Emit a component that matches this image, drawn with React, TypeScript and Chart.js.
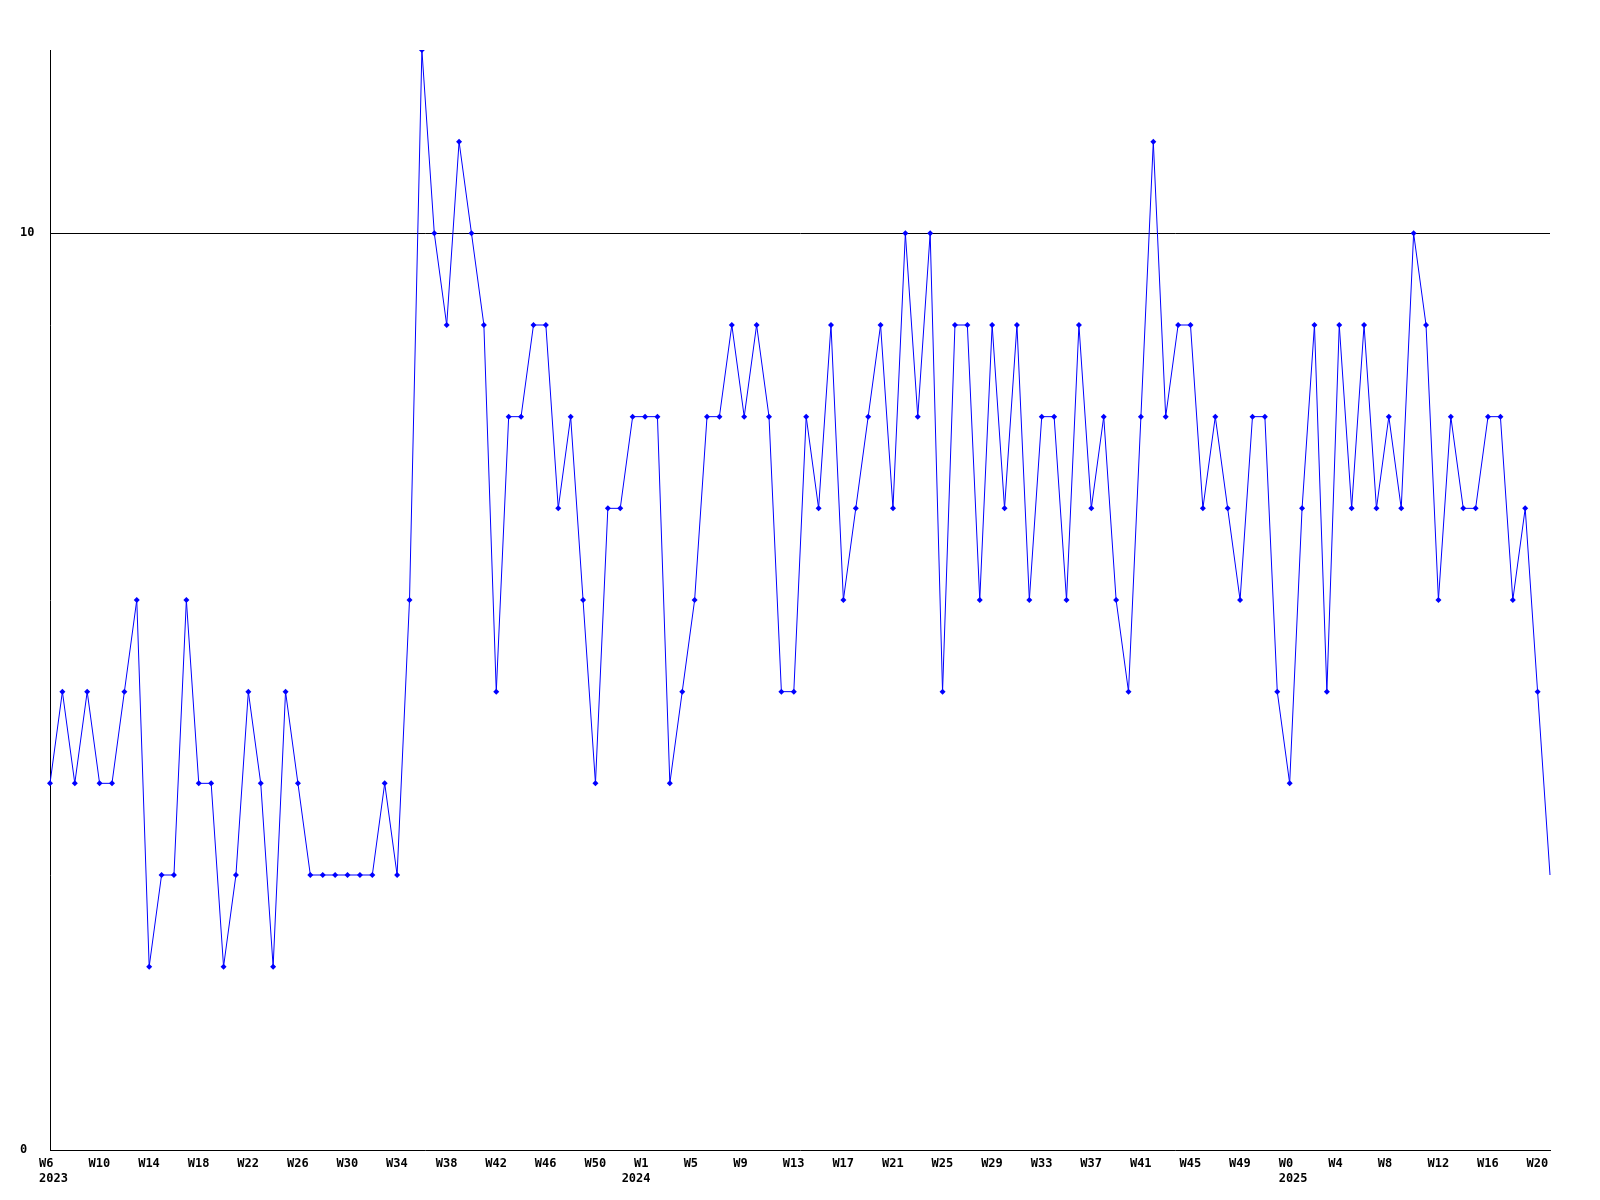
import React, { useEffect, useRef } from "react";
import { Chart, registerables } from "chart.js";

Chart.register(...registerables);

// Weekly categories (one per data point)
const weeks: string[] = [
  "W6","W7","W8","W9","W10","W11","W12","W13","W14","W15","W16","W17","W18","W19","W20","W21",
  "W22","W23","W24","W25","W26","W27","W28","W29","W30","W31","W32","W33","W34","W35","W36","W37",
  "W38","W39","W40","W41","W42","W43","W44","W45","W46","W47","W48","W49","W50","W51","W52","W53",
  "W1","W2","W3","W4","W5","W6","W7","W8","W9","W10","W11","W12","W13","W14","W15","W16",
  "W17","W18","W19","W20","W21","W22","W23","W24","W25","W26","W27","W28","W29","W30","W31","W32",
  "W33","W34","W35","W36","W37","W38","W39","W40","W41","W42","W43","W44","W45","W46","W47","W48",
  "W49","W50","W51","W52",
  "W0","W1","W2","W3","W4","W5","W6","W7","W8","W9","W10","W11","W12","W13","W14","W15",
  "W16","W17","W18","W19","W20","W21",
];

// Indices of the weeks that carry a visible tick label
const labelledWeekIdx: number[] = [
  0, 4, 8, 12, 16, 20, 24, 28, 32, 36, 40, 44, 48, 52, 56, 60, 64, 68, 72, 76,
  80, 84, 88, 92, 96, 100, 104, 108, 112, 116, 120,
];

// Year labels: index -> year text
const yearIdx: number[] = [0, 47, 100];
const yearText: string[] = ["2023", "2024", "2025"];

// Series values
const values: number[] = [
  4, 5, 4, 5, 4, 4, 5, 6, 2, 3,
  3, 6, 4, 4, 2, 3, 5, 4, 2, 5,
  4, 3, 3, 3, 3, 3, 3, 4, 3, 6,
  12, 10, 9, 11, 10, 9, 5, 8, 8, 9,
  9, 7, 8, 6, 4, 7, 7, 8, 8, 8,
  4, 5, 6, 8, 8, 9, 8, 9, 8, 5,
  5, 8, 7, 9, 6, 7, 8, 9, 7, 10,
  8, 10, 5, 9, 9, 6, 9, 7, 9, 6,
  8, 8, 6, 9, 7, 8, 6, 5, 8, 11,
  8, 9, 9, 7, 8, 7, 6, 8, 8, 5,
  4, 7, 9, 5, 9, 7, 9, 7, 8, 7,
  10, 9, 6, 8, 7, 7, 8, 8, 6, 7,
  5, 3,
];

const yTickValues: number[] = [0, 10];

export default function App() {
  const ref = useRef<HTMLCanvasElement | null>(null);

  useEffect(() => {
    if (!ref.current) return;
    const font = { family: "'DejaVu Sans Mono', monospace", size: 12, weight: "bold" as const, lineHeight: 1.25 };
    const last = values.length - 1;
    const chart = new Chart(ref.current, {
      type: "line",
      data: {
        labels: weeks,
        datasets: [
          {
            data: values,
            borderColor: "#0000ff",
            backgroundColor: "#0000ff",
            borderWidth: 1,
            tension: 0,
            pointStyle: "rectRot",
            pointRadius: (c: any) => (c.dataIndex === last ? 0 : 3),
            pointBorderWidth: 0,
            pointBackgroundColor: "#0000ff",
            fill: false,
          },
        ],
      },
      options: {
        animation: false,
        responsive: false,
        maintainAspectRatio: false,
        events: [],
        layout: { padding: { left: 20, right: 50, top: 50, bottom: 0 } },
        plugins: { legend: { display: false }, tooltip: { enabled: false } },
        scales: {
          x: {
            type: "category",
            offset: false,
            grid: { display: false, drawTicks: false },
            border: { display: true, color: "#000000", width: 1 },
            ticks: {
              autoSkip: false,
              maxRotation: 0,
              minRotation: 0,
              align: "start",
              labelOffset: -11,
              padding: 6,
              color: "#000000",
              font,
              callback: (_v: any, i: number) => {
                const yi = yearIdx.indexOf(i);
                const wk = labelledWeekIdx.includes(i) ? weeks[i] : "";
                if (yi >= 0) return [wk, yearText[yi]];
                return wk;
              },
            },
            afterFit: (s: any) => {
              s.height = 50;
            },
          },
          y: {
            min: 0,
            max: 12,
            grid: {
              drawTicks: false,
              color: (c: any) => (c.tick && c.tick.value === 10 ? "#000000" : "rgba(0,0,0,0)"),
              lineWidth: 1,
            },
            border: { display: true, color: "#000000", width: 1 },
            afterBuildTicks: (s: any) => {
              s.ticks = yTickValues.map((v) => ({ value: v }));
            },
            ticks: {
              crossAlign: "far",
              color: "#000000",
              font,
              callback: (v: any) => String(v),
            },
            afterFit: (s: any) => {
              s.width = 30;
            },
          },
        },
      },
    });
    return () => chart.destroy();
  }, []);

  return (
    <div style={{ position: "fixed", left: 0, top: 0, width: 1600, height: 1200, background: "#ffffff" }}>
      <canvas ref={ref} width={1600} height={1200} style={{ width: 1600, height: 1200, display: "block" }} />
    </div>
  );
}
